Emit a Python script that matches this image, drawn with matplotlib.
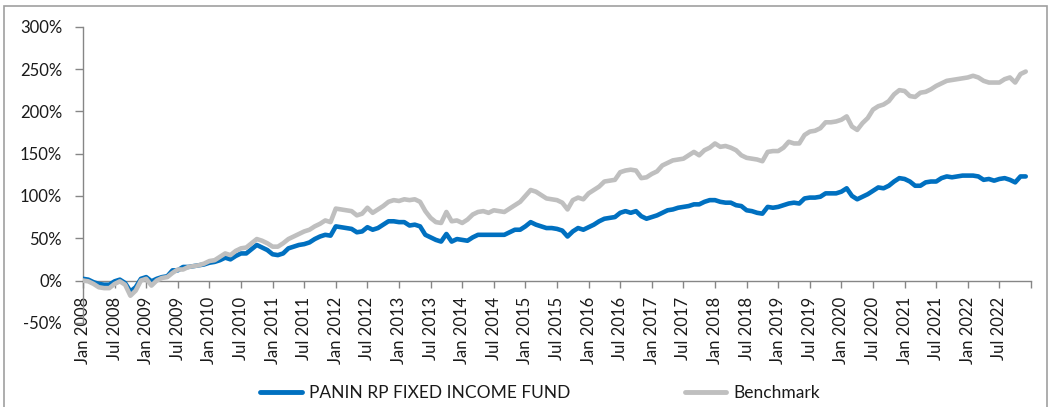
import matplotlib
matplotlib.use("Agg")
import matplotlib.pyplot as plt
from matplotlib.patches import Rectangle
from matplotlib.ticker import FuncFormatter

plt.rcParams['font.family'] = ['Lato', 'DejaVu Sans']

# Monthly cumulative returns (%), Jan 2008 .. Dec 2022
fund = [
    2, 1, -2, -4, -5, -5, -1, 1, -3, -13, -8, 2,            # 2008
    4, -1, 2, 4, 5, 12, 12, 16, 16, 17, 18, 19,             # 2009
    21, 22, 24, 27, 25, 29, 32, 32, 37, 42, 39, 36,         # 2010
    31, 30, 32, 38, 40, 42, 43, 45, 49, 52, 54, 53,         # 2011
    64, 63, 62, 61, 57, 58, 63, 60, 62, 66, 70, 70,         # 2012
    69, 69, 65, 66, 64, 54, 51, 48, 46, 55, 46, 49,         # 2013
    48, 47, 51, 54, 54, 54, 54, 54, 54, 57, 60, 60,         # 2014
    64, 69, 66, 64, 62, 62, 61, 59, 52, 58, 62, 60,         # 2015
    63, 66, 70, 73, 74, 75, 80, 82, 80, 82, 76, 73,         # 2016
    75, 77, 80, 83, 84, 86, 87, 88, 90, 90, 93, 95,         # 2017
    95, 93, 92, 92, 89, 88, 83, 82, 80, 79, 87, 86,         # 2018
    87, 89, 91, 92, 91, 97, 98, 98, 99, 103, 103, 103,      # 2019
    105, 109, 100, 96, 99, 102, 106, 110, 109, 112, 117, 121,   # 2020
    120, 117, 112, 112, 116, 117, 117, 121, 123, 122, 123, 124,  # 2021
    124, 124, 123, 119, 120, 118, 120, 121, 119, 116, 123, 123,  # 2022
]

benchmark = [
    0, -1, -4, -8, -9, -9, -4, -1, -5, -18, -12, 0,          # 2008
    2, -6, 0, 3, 4, 9, 13, 13, 16, 17, 18, 20,               # 2009
    23, 24, 28, 32, 30, 35, 38, 39, 44, 49, 47, 44,          # 2010
    40, 40, 44, 49, 52, 55, 58, 60, 64, 67, 71, 69,          # 2011
    85, 84, 83, 82, 77, 79, 86, 80, 84, 88, 93, 95,          # 2012
    94, 96, 95, 96, 93, 82, 74, 69, 68, 81, 70, 71,          # 2013
    68, 72, 78, 81, 82, 80, 83, 82, 81, 85, 89, 93,          # 2014
    100, 107, 105, 101, 97, 96, 95, 92, 84, 95, 98, 96,      # 2015
    103, 107, 111, 117, 118, 119, 128, 130, 131, 130, 121, 122,  # 2016
    126, 129, 136, 139, 142, 143, 144, 148, 152, 148, 154, 157,  # 2017
    162, 158, 159, 157, 154, 148, 145, 144, 143, 141, 152, 153,  # 2018
    153, 157, 164, 162, 162, 172, 176, 177, 180, 187, 187, 188,  # 2019
    190, 194, 182, 178, 186, 192, 202, 206, 208, 212, 220, 225,  # 2020
    224, 218, 217, 222, 223, 226, 230, 233, 236, 237, 238, 239,  # 2021
    240, 242, 240, 236, 234, 234, 234, 238, 240, 234, 244, 247,  # 2022
]

years = list(range(2008, 2023))
tick_labels = [f"{m} {y}" for y in years for m in ("Jan", "Jul")]
y_ticks = [-50, 0, 50, 100, 150, 200, 250, 300]

fund_name = "PANIN RP FIXED INCOME FUND"
bench_name = "Benchmark"

W, H = 1048, 407
fig = plt.figure(figsize=(W / 100, H / 100), dpi=100)
ax = fig.add_axes([83 / W, 1 - 322.8 / H, (1031 - 83) / W, (322.8 - 26.7) / H])

for s in ("top", "right"):
    ax.spines[s].set_visible(False)
ax.spines["bottom"].set_position(("data", 0))
for s in ("bottom", "left"):
    ax.spines[s].set_color("#868686")
    ax.spines[s].set_linewidth(1.0)

x = list(range(len(fund)))
ax.plot(x, fund, color="#0070C0", lw=3.3, solid_joinstyle="round",
        solid_capstyle="round", label=fund_name, zorder=3)
ax.plot(x, benchmark, color="#BFBFBF", lw=3.3, solid_joinstyle="round",
        solid_capstyle="round", label=bench_name, zorder=4)

ax.set_xlim(0, 180)
ax.set_ylim(-50, 300)

ax.set_yticks(y_ticks)
ax.yaxis.set_major_formatter(FuncFormatter(lambda v, p: f"{int(v)}%"))
ax.set_xticks(list(range(0, 181, 6)))
ax.set_xticklabels(tick_labels + [""])

ax.tick_params(axis="y", length=6, width=1, color="#868686", pad=9,
               labelsize=12, labelcolor="#1a1a1a")
ax.tick_params(axis="x", length=5, width=1, color="#868686", pad=7,
               labelsize=12, labelcolor="#1a1a1a", labelrotation=90)
for t in ax.get_xticklabels():
    t.set_ha("center")
    t.set_va("top")

leg = fig.legend(loc="center", bbox_to_anchor=(540 / W, 1 - 393 / H), ncol=2,
                 frameon=False, fontsize=12.5, handlelength=2.4,
                 columnspacing=6.6, handletextpad=0.4)
for line in leg.get_lines():
    line.set_linewidth(3.5)
for t in leg.get_texts():
    t.set_color("#1a1a1a")

fig.add_artist(Rectangle((4 / W, -0.01), (1046.5 - 4) / W, (H - 6) / H + 0.01,
                         transform=fig.transFigure, fill=False,
                         edgecolor="#A0A0A0", linewidth=1.2))

fig.savefig("out.png", dpi=100)
